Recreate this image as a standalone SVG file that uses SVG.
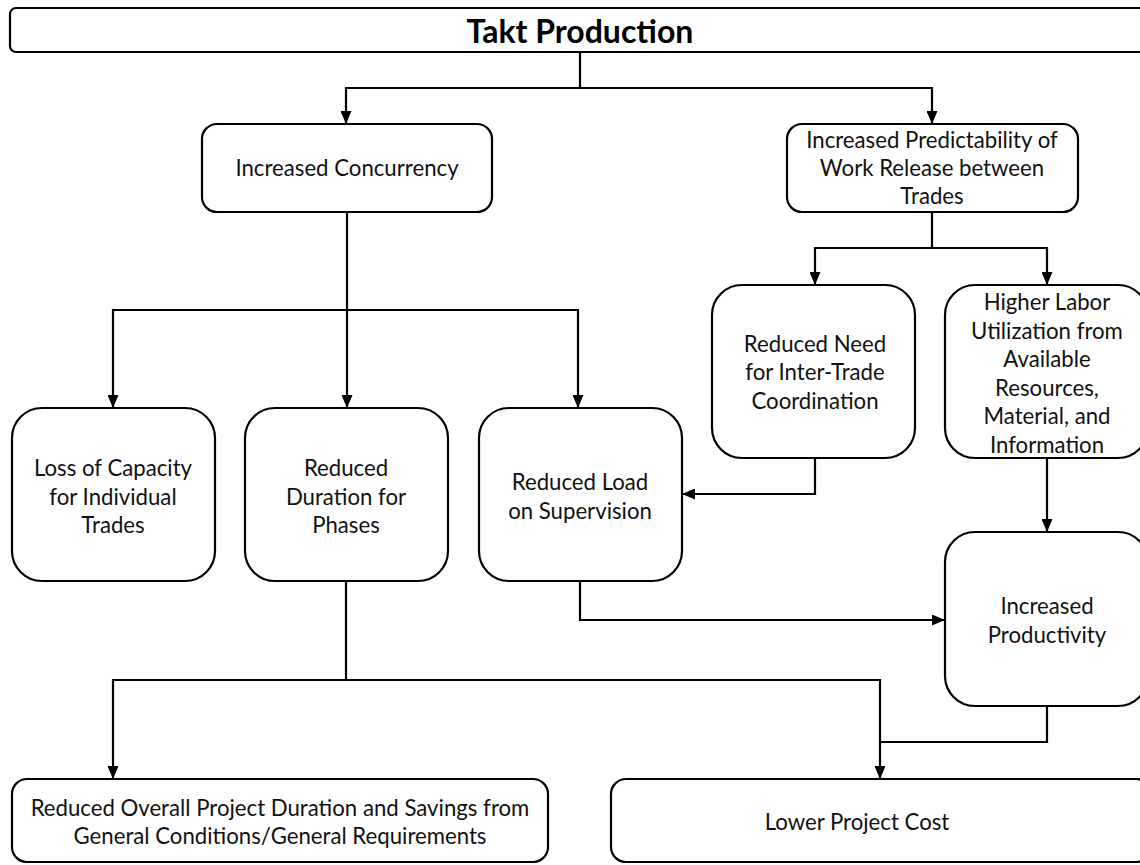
<svg xmlns="http://www.w3.org/2000/svg" width="1140" height="865" viewBox="0 0 1140 865">
  <style>
    .box { fill: #ffffff; stroke: #000000; stroke-width: 2.2; }
    .lbl { font-family: Lato, "Open Sans", sans-serif; font-size: 22.2px; fill: #111111; text-anchor: middle; dominant-baseline: central; }
    .title { font-family: Lato, "Open Sans", sans-serif; font-size: 32px; font-weight: bold; fill: #000000; text-anchor: middle; dominant-baseline: central; }
    .wire { fill: none; stroke: #000000; stroke-width: 2.2; }
    .arrow { marker-end: url(#head); }
  </style>
  <defs>
    <marker id="head" viewBox="0 0 13 11" refX="13" refY="5.5" markerWidth="13" markerHeight="11" markerUnits="userSpaceOnUse" orient="auto">
      <path d="M0,0 L13,5.5 L0,11 Z" fill="#000000"/>
    </marker>
  </defs>
  <rect width="1140" height="865" fill="#ffffff"/>

  <g id="connectors">
    <!-- Takt Production fan-out -->
    <path class="wire" d="M580,52 V88"/>
    <path class="wire arrow" d="M580,88 H346 V124"/>
    <path class="wire arrow" d="M580,88 H932 V124"/>
    <!-- Increased Concurrency fan-out -->
    <path class="wire" d="M347,212 V310"/>
    <path class="wire arrow" d="M347,310 H113 V408"/>
    <path class="wire arrow" d="M347,310 V408"/>
    <path class="wire arrow" d="M347,310 H578 V408"/>
    <!-- Predictability fan-out -->
    <path class="wire" d="M932,212 V248"/>
    <path class="wire arrow" d="M932,248 H815 V285"/>
    <path class="wire arrow" d="M932,248 H1047 V285"/>
    <!-- Reduced Need to Reduced Load -->
    <path class="wire arrow" d="M815,458 V494 H682"/>
    <!-- Higher Labor to Increased Productivity -->
    <path class="wire arrow" d="M1047,458 V532"/>
    <!-- Reduced Load to Increased Productivity -->
    <path class="wire arrow" d="M580,581 V620 H945"/>
    <!-- Reduced Duration to bottom outcomes -->
    <path class="wire" d="M346,581 V680"/>
    <path class="wire arrow" d="M346,680 H113 V779"/>
    <path class="wire arrow" d="M346,680 H880 V779"/>
    <!-- Increased Productivity to Lower Project Cost -->
    <path class="wire" d="M1047,706 V742 H880"/>
  </g>

  <g id="takt-production">
    <rect class="box" x="10" y="8" width="1140" height="44" rx="6"/>
    <text class="title" x="580" y="30">Takt Production</text>
  </g>

  <g id="increased-concurrency">
    <rect class="box" x="202" y="124" width="290" height="88" rx="15"/>
    <text class="lbl" x="347" y="167">Increased Concurrency</text>
  </g>

  <g id="increased-predictability">
    <rect class="box" x="787" y="124" width="291" height="88" rx="15"/>
    <text class="lbl" x="932" y="139">Increased Predictability of</text>
    <text class="lbl" x="932" y="167">Work Release between</text>
    <text class="lbl" x="932" y="195">Trades</text>
  </g>

  <g id="loss-of-capacity">
    <rect class="box" x="12" y="408" width="203" height="173" rx="30"/>
    <text class="lbl" x="113" y="467">Loss of Capacity</text>
    <text class="lbl" x="113" y="496">for Individual</text>
    <text class="lbl" x="113" y="524">Trades</text>
  </g>

  <g id="reduced-duration">
    <rect class="box" x="245" y="408" width="203" height="173" rx="30"/>
    <text class="lbl" x="346" y="467">Reduced</text>
    <text class="lbl" x="346" y="496">Duration for</text>
    <text class="lbl" x="346" y="524">Phases</text>
  </g>

  <g id="reduced-load">
    <rect class="box" x="479" y="408" width="203" height="173" rx="30"/>
    <text class="lbl" x="580" y="481">Reduced Load</text>
    <text class="lbl" x="580" y="510">on Supervision</text>
  </g>

  <g id="reduced-need">
    <rect class="box" x="712" y="285" width="203" height="173" rx="30"/>
    <text class="lbl" x="815" y="343">Reduced Need</text>
    <text class="lbl" x="815" y="371">for Inter-Trade</text>
    <text class="lbl" x="815" y="400">Coordination</text>
  </g>

  <g id="higher-labor">
    <rect class="box" x="945" y="285" width="203" height="173" rx="30"/>
    <text class="lbl" x="1047" y="301">Higher Labor</text>
    <text class="lbl" x="1047" y="330">Utilization from</text>
    <text class="lbl" x="1047" y="358">Available</text>
    <text class="lbl" x="1047" y="387">Resources,</text>
    <text class="lbl" x="1047" y="415">Material, and</text>
    <text class="lbl" x="1047" y="444">Information</text>
  </g>

  <g id="increased-productivity">
    <rect class="box" x="945" y="532" width="203" height="174" rx="30"/>
    <text class="lbl" x="1047" y="605">Increased</text>
    <text class="lbl" x="1047" y="634">Productivity</text>
  </g>

  <g id="reduced-overall-duration">
    <rect class="box" x="12" y="779" width="536" height="83" rx="15"/>
    <text class="lbl" x="280" y="807">Reduced Overall Project Duration and Savings from</text>
    <text class="lbl" x="280" y="835">General Conditions/General Requirements</text>
  </g>

  <g id="lower-project-cost">
    <rect class="box" x="611" y="779" width="540" height="83" rx="15"/>
    <text class="lbl" x="857" y="821">Lower Project Cost</text>
  </g>
</svg>
